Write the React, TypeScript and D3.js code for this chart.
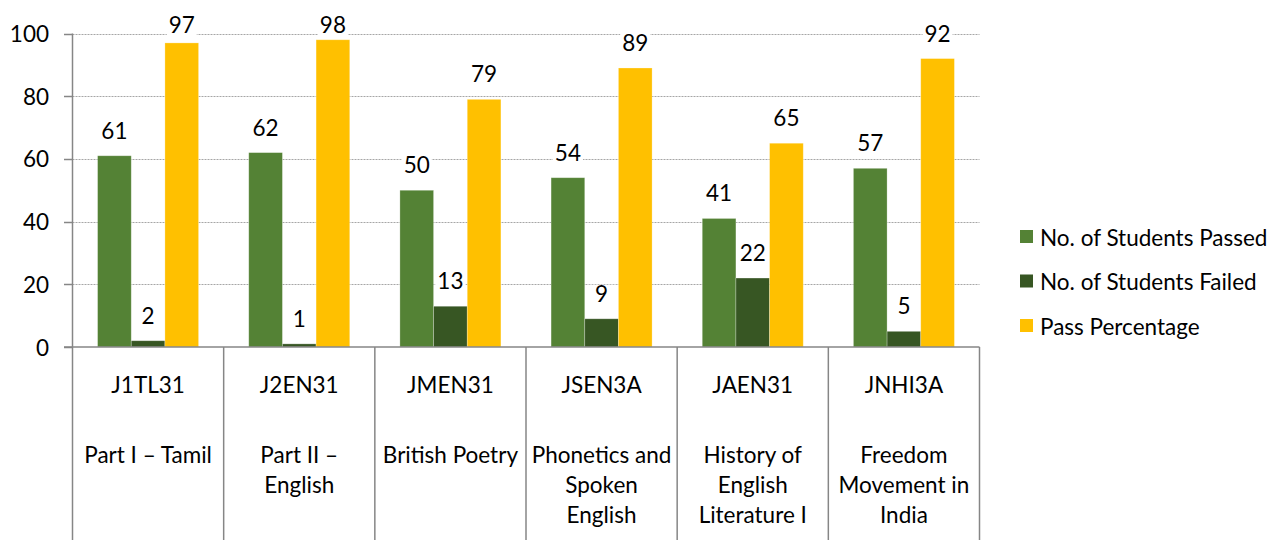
import React from "react";
import * as d3 from "d3";

const codes = ["J1TL31", "J2EN31", "JMEN31", "JSEN3A", "JAEN31", "JNHI3A"];
const nameLines = [
  ["Part I – Tamil"],
  ["Part II –", "English"],
  ["British Poetry"],
  ["Phonetics and", "Spoken", "English"],
  ["History of", "English", "Literature I"],
  ["Freedom", "Movement in", "India"],
];
const seriesNames = ["No. of Students Passed", "No. of Students Failed", "Pass Percentage"];
const passed = [61, 62, 50, 54, 41, 57];
const failed = [2, 1, 13, 9, 22, 5];
const passPct = [97, 98, 79, 89, 65, 92];
const yTicks = [0, 20, 40, 60, 80, 100];
const colors = ["#548235", "#375623", "#FFC000"];

const W = 1276;
const H = 540;
const FONT = "Lato, 'Open Sans', sans-serif";
const FS = 22.5;

export default function App() {
  const left = 72.5;
  const right = 979.5;
  const top = 33.5;
  const base = 347;
  const x = d3.scaleBand<string>().domain(codes).range([left, right]).paddingInner(0).paddingOuter(0);
  const x1 = d3.scaleBand<number>().domain([0, 1, 2]).range([0, x.bandwidth()]).paddingOuter(0.745).paddingInner(0);
  const y = d3.scaleLinear().domain([0, 100]).range([base, top]);
  const series = [passed, failed, passPct];

  return (
    <svg width={W} height={H} style={{ position: "absolute", left: 0, top: 0, background: "#fff" }} fontFamily={FONT}>
      {/* gridlines */}
      {yTicks.filter((t) => t > 0).map((t) => (
        <line key={"g" + t} x1={left} x2={right} y1={Math.round(y(t)) + 0.5} y2={Math.round(y(t)) + 0.5}
          stroke="#a6a6a6" strokeWidth={1} strokeDasharray="2,1" />
      ))}
      {/* bars */}
      {series.map((vals, si) =>
        vals.map((v, ci) => (
          <rect key={`b${si}-${ci}`} x={(x(codes[ci]) as number) + (x1(si) as number)} y={y(v)}
            width={x1.bandwidth()} height={base - y(v)} fill={colors[si]} stroke="#ffffff" strokeOpacity={0.35} strokeWidth={0.75} />
        ))
      )}
      {/* value labels */}
      {series.map((vals, si) =>
        vals.map((v, ci) => {
          const cx = (x(codes[ci]) as number) + (x1(si) as number) + x1.bandwidth() / 2;
          const by = Math.max(y(v) - 17, 33);
          return (
            <g key={`l${si}-${ci}`}>
              <rect x={cx - 15} y={by - 17} width={30} height={20} fill="#fff" />
              <text x={cx} y={by} textAnchor="middle" fontSize={FS} fill="#000">{v}</text>
            </g>
          );
        })
      )}
      {/* y axis */}
      <line x1={left} x2={left} y1={top} y2={H} stroke="#868686" strokeWidth={1.5} />
      {yTicks.map((t) => (
        <g key={"t" + t}>
          <line x1={64} x2={left} y1={Math.round(y(t)) + 0.5} y2={Math.round(y(t)) + 0.5} stroke="#868686" strokeWidth={1.5} />
          <text x={49} y={y(t)} textAnchor="end" dominantBaseline="central" fontSize={FS} fill="#000">{t}</text>
        </g>
      ))}
      {/* x axis */}
      <line x1={64} x2={right} y1={base} y2={base} stroke="#868686" strokeWidth={1.5} />
      {codes.map((c, i) => (
        <line key={"d" + i} x1={(x(c) as number) + x.bandwidth()} x2={(x(c) as number) + x.bandwidth()} y1={base} y2={H}
          stroke="#868686" strokeWidth={1.5} />
      ))}
      {codes.map((c, i) => {
        const cx = (x(c) as number) + x.bandwidth() / 2;
        return (
          <g key={"c" + i}>
            <text x={cx} y={393} textAnchor="middle" fontSize={FS} fill="#000">{c}</text>
            {nameLines[i].map((ln, j) => (
              <text key={j} x={cx} y={463 + j * 30} textAnchor="middle" fontSize={FS} fill="#000">{ln}</text>
            ))}
          </g>
        );
      })}
      {/* legend */}
      {seriesNames.map((n, i) => (
        <g key={"lg" + i}>
          <rect x={1020} y={230 + i * 44.5} width={13} height={13} fill={colors[i]} />
          <text x={1040} y={237 + i * 44.5} dominantBaseline="central" fontSize={FS} fill="#000">{n}</text>
        </g>
      ))}
    </svg>
  );
}
